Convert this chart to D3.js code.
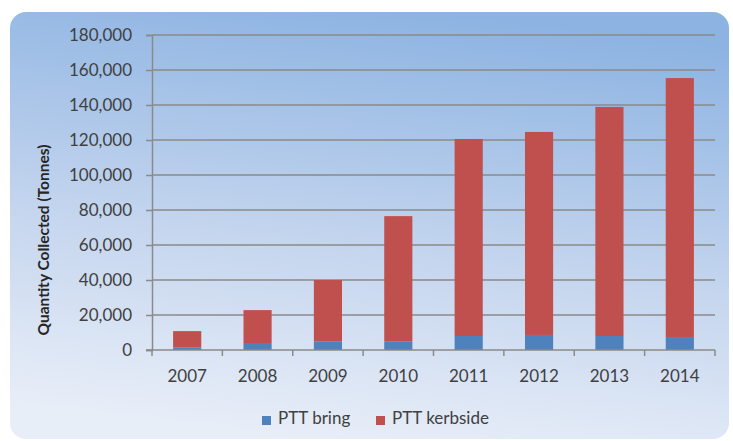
<!DOCTYPE html>
<html>
<head>
<meta charset="utf-8">
<script src="https://cdn.jsdelivr.net/npm/d3@7"></script>
<style>
	body { margin: 0; background: #fff; }
	svg { display: block; font-family: Lato, "Open Sans", sans-serif; }
</style>
</head>
<body>
<div id="chart"></div>
<script>
//	Values (tonnes)
var years = ["2007", "2008", "2009", "2010", "2011", "2012", "2013", "2014"];
var bring = [1500, 4000, 5000, 5000, 8000, 8600, 8000, 7400];
var kerbside = [9300, 18800, 35000, 71500, 112600, 116000, 130900, 148000];
var yTicks = [0, 20000, 40000, 60000, 80000, 100000, 120000, 140000, 160000, 180000];
var seriesNames = ["PTT bring", "PTT kerbside"];
var seriesColors = ["#4f81bd", "#c0504d"];

draw();

function draw() {
	var W = 733, H = 441;
	var m = {left: 152, right: 18, top: 35, bottom: 91};
	var fontSize = 17;

	var svg = d3.select("#chart")
		.append("svg")
		.attr("width", W)
		.attr("height", H);

	var defs = svg.append("defs");
	var grad = defs.append("linearGradient")
		.attr("id", "bg")
		.attr("x1", "0.6").attr("y1", "0")
		.attr("x2", "0.4").attr("y2", "1");
	grad.append("stop").attr("offset", "0").attr("stop-color", "#8cb3e2");
	grad.append("stop").attr("offset", "0.55").attr("stop-color", "#c4d5ee");
	grad.append("stop").attr("offset", "1").attr("stop-color", "#e8eef8");

	//	Panel
	svg.append("rect")
		.attr("x", 10)
		.attr("y", 12)
		.attr("width", 719)
		.attr("height", 427)
		.attr("rx", 16)
		.attr("fill", "url(#bg)");

	var x = d3.scaleBand()
		.domain(years)
		.range([m.left, W - m.right])
		.paddingInner(0.6)
		.paddingOuter(0.3);

	var y = d3.scaleLinear()
		.domain([0, 180000])
		.range([H - m.bottom, m.top]);

	var stackData = years.map(function(yr, i) {
		return {year: yr, bring: bring[i], kerbside: kerbside[i]};
	});
	var series = d3.stack().keys(["bring", "kerbside"])(stackData);

	//	Gridlines
	svg.append("g")
		.selectAll("line")
		.data(yTicks.filter(function(d) { return d > 0; }))
		.join("line")
		.attr("x1", m.left)
		.attr("x2", W - m.right)
		.attr("y1", function(d) { return y(d); })
		.attr("y2", function(d) { return y(d); })
		.attr("stroke", "#8a8a8a")
		.attr("stroke-width", 1.5);

	//	Bars
	svg.append("g")
		.selectAll("g")
		.data(series)
		.join("g")
		.attr("fill", function(d, i) { return seriesColors[i]; })
		.selectAll("rect")
		.data(function(d) { return d; })
		.join("rect")
		.attr("x", function(d) { return x(d.data.year); })
		.attr("y", function(d) { return y(d[1]); })
		.attr("width", x.bandwidth())
		.attr("height", function(d) { return y(d[0]) - y(d[1]); });

	//	Y axis
	var yAxis = svg.append("g")
		.attr("transform", "translate(" + m.left + ",0)")
		.call(d3.axisLeft(y)
			.tickValues(yTicks)
			.tickSize(6)
			.tickPadding(14)
			.tickFormat(d3.format(",")));
	yAxis.select(".domain").attr("stroke", "#8a8a8a").attr("stroke-width", 1.5);
	yAxis.selectAll(".tick line").attr("stroke", "#8a8a8a").attr("stroke-width", 1.5);
	yAxis.selectAll("text")
		.attr("fill", "#404040")
		.attr("font-size", fontSize)
		.attr("font-family", "Lato, sans-serif");

	//	X axis, ticks between categories
	var plotW = W - m.right - m.left;
	var xAxisG = svg.append("g")
		.attr("transform", "translate(0," + (H - m.bottom) + ")");
	xAxisG.append("line")
		.attr("x1", m.left - 6)
		.attr("x2", W - m.right)
		.attr("stroke", "#8a8a8a")
		.attr("stroke-width", 1.5);
	xAxisG.selectAll(".xtick")
		.data(d3.range(years.length + 1))
		.join("line")
		.attr("class", "xtick")
		.attr("x1", function(i) { return m.left + i * plotW / years.length; })
		.attr("x2", function(i) { return m.left + i * plotW / years.length; })
		.attr("y1", 0)
		.attr("y2", 6)
		.attr("stroke", "#8a8a8a")
		.attr("stroke-width", 1.5);
	xAxisG.selectAll(".xlab")
		.data(years)
		.join("text")
		.attr("class", "xlab")
		.attr("x", function(d) { return x(d) + x.bandwidth() / 2; })
		.attr("y", 32)
		.attr("text-anchor", "middle")
		.attr("fill", "#404040")
		.attr("font-size", fontSize)
		.text(function(d) { return d; });

	//	Y title
	svg.append("text")
		.attr("transform", "translate(49,240) rotate(-90)")
		.attr("text-anchor", "middle")
		.attr("fill", "#262626")
		.attr("font-size", 15.5)
		.attr("font-weight", "bold")
		.text("Quantity Collected (Tonnes)");

	//	Legend
	var legend = svg.append("g")
		.attr("transform", "translate(262,420)");
	var offsets = [0, 114];
	seriesNames.forEach(function(name, i) {
		var g = legend.append("g").attr("transform", "translate(" + offsets[i] + ",0)");
		g.append("rect")
			.attr("x", 0)
			.attr("y", -4)
			.attr("width", 9)
			.attr("height", 9)
			.attr("fill", seriesColors[i]);
		g.append("text")
			.attr("x", 16)
			.attr("y", 4)
			.attr("fill", "#404040")
			.attr("font-size", fontSize)
			.text(name);
	});
}
</script>
</body>
</html>
